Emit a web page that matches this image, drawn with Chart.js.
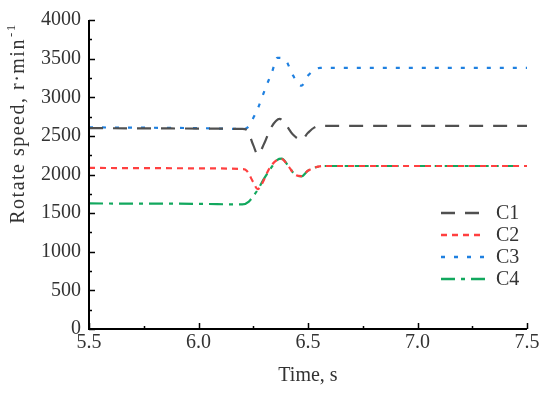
<!DOCTYPE html>
<html>
<head>
<meta charset="utf-8">
<script src="https://cdn.jsdelivr.net/npm/chart.js@4.4.0/dist/chart.umd.min.js"></script>
<style>
  html, body { margin: 0; padding: 0; background: #fff; }
  #wrap { width: 550px; height: 393px; }
</style>
</head>
<body>
<div id="wrap"><canvas id="chart"></canvas></div>
<script>
// series names
var seriesNames = ['C1', 'C2', 'C3', 'C4'];

// time (s) and rotate speed (r/min)
var c1Time  = [5.5, 6.0, 6.2, 6.22, 6.25, 6.27, 6.3, 6.33, 6.37, 6.4, 6.43, 6.47, 6.5, 6.53, 6.56, 6.6, 7.0, 7.5];
var c1Speed = [2600, 2595, 2590, 2580, 2380, 2260, 2400, 2600, 2720, 2640, 2520, 2450, 2540, 2610, 2630, 2630, 2630, 2630];

var c2Time  = [5.5, 6.0, 6.2, 6.22, 6.25, 6.27, 6.29, 6.32, 6.35, 6.38, 6.41, 6.44, 6.47, 6.5, 6.53, 6.57, 7.0, 7.5];
var c2Speed = [2085, 2080, 2070, 2050, 1900, 1810, 1880, 2060, 2170, 2200, 2110, 2000, 1980, 2050, 2090, 2110, 2110, 2110];

var c3Time  = [5.5, 6.0, 6.2, 6.22, 6.24, 6.27, 6.31, 6.335, 6.36, 6.395, 6.43, 6.47, 6.5, 6.555, 6.6, 7.0, 7.5];
var c3Speed = [2610, 2600, 2590, 2600, 2680, 2850, 3150, 3320, 3510, 3490, 3290, 3150, 3280, 3380, 3380, 3380, 3380];

var c4Time  = [5.5, 6.0, 6.2, 6.23, 6.25, 6.27, 6.3, 6.33, 6.36, 6.38, 6.41, 6.44, 6.47, 6.5, 6.53, 6.57, 7.0, 7.5];
var c4Speed = [1625, 1620, 1612, 1650, 1720, 1800, 1950, 2080, 2190, 2205, 2110, 2000, 1975, 2050, 2090, 2110, 2110, 2110];

// tick values
var xTicks = [5.5, 6.0, 6.5, 7.0, 7.5];
var yTicks = [0, 500, 1000, 1500, 2000, 2500, 3000, 3500, 4000];

var colors = ['#505050', '#ff4040', '#1f80e0', '#12a85e'];
var dashes = [[14, 10], [6, 5], [4, 9], [14, 6, 4, 6]];

var FONT = '"Liberation Serif", "DejaVu Serif", serif';

function pts(t, v) {
  return t.map(function (x, i) { return { x: x, y: v[i] }; });
}

var seriesData = [pts(c1Time, c1Speed), pts(c2Time, c2Speed), pts(c3Time, c3Speed), pts(c4Time, c4Speed)];

// axes with inward ticks, custom y title, legend inside plot
var axesPlugin = {
  id: 'axesPlugin',
  afterDatasetsDraw: function (chart) {
    var ctx = chart.ctx;
    var a = chart.chartArea;
    var xs = chart.scales.x, ys = chart.scales.y;
    ctx.save();
    ctx.strokeStyle = '#000';
    ctx.lineWidth = 2;
    ctx.beginPath();
    ctx.moveTo(a.left, a.top);
    ctx.lineTo(a.left, a.bottom);
    ctx.lineTo(a.right, a.bottom);
    ctx.stroke();

    ctx.lineWidth = 1.5;
    ctx.beginPath();
    // x ticks, major and minor
    for (var v = xs.min; v <= xs.max + 1e-6; v += 0.25) {
      var px = Math.round(xs.getPixelForValue(v)) + 0.5;
      var major = Math.abs((v * 2) - Math.round(v * 2)) < 1e-6;
      ctx.moveTo(px, a.bottom);
      ctx.lineTo(px, a.bottom - (major ? 6 : 3));
    }
    for (var w = ys.min; w <= ys.max + 1e-6; w += 250) {
      var py = Math.round(ys.getPixelForValue(w)) + 0.5;
      var majorY = w % 500 === 0;
      ctx.moveTo(a.left, py);
      ctx.lineTo(a.left + (majorY ? 6 : 3), py);
    }
    ctx.stroke();

    // y axis title with superscript
    ctx.fillStyle = '#333';
    ctx.translate(19, 124);
    ctx.rotate(-Math.PI / 2);
    ctx.textBaseline = 'middle';
    ctx.letterSpacing = '1.5px';
    var main = 'Rotate speed, r\u00b7min';
    ctx.font = '20px ' + FONT;
    var mw = ctx.measureText(main).width;
    ctx.font = '13px ' + FONT;
    var sw = ctx.measureText('-1').width;
    var start = -(mw + sw) / 2;
    ctx.textAlign = 'left';
    ctx.font = '20px ' + FONT;
    ctx.fillText(main, start, 0);
    ctx.font = '13px ' + FONT;
    ctx.fillText('-1', start + mw + 1, -7);
    ctx.restore();

    // legend
    ctx.save();
    chart.data.datasets.forEach(function (ds, i) {
      var y = 213 + i * 22;
      ctx.strokeStyle = ds.borderColor;
      ctx.lineWidth = 2.5;
      ctx.setLineDash(ds.borderDash);
      ctx.beginPath();
      ctx.moveTo(441, y);
      ctx.lineTo(485, y);
      ctx.stroke();
      ctx.setLineDash([]);
      ctx.fillStyle = '#333';
      ctx.font = '20px ' + FONT;
      ctx.textAlign = 'left';
      ctx.textBaseline = 'middle';
      ctx.fillText(ds.label, 496, y + 1);
    });
    ctx.restore();
  }
};

new Chart(document.getElementById('chart'), {
  type: 'line',
  data: {
    datasets: seriesNames.map(function (name, i) {
      return {
        label: name,
        data: seriesData[i],
        borderColor: colors[i],
        borderDash: dashes[i],
        borderWidth: 2.2,
        pointRadius: 0,
        cubicInterpolationMode: 'monotone',
        fill: false
      };
    })
  },
  options: {
    responsive: true,
    maintainAspectRatio: false,
    animation: false,
    layout: { padding: { top: 17, right: 23, left: 0, bottom: 0 } },
    plugins: { legend: { display: false }, tooltip: { enabled: false } },
    scales: {
      x: {
        type: 'linear',
        min: 5.5,
        max: 7.5,
        afterBuildTicks: function (s) { s.ticks = xTicks.map(function (v) { return { value: v }; }); },
        afterFit: function (s) { s.height = 64; },
        grid: { display: false, drawTicks: false },
        border: { display: false },
        ticks: {
          padding: 2,
          color: '#333',
          font: { family: FONT, size: 20 },
          maxRotation: 0,
          callback: function (v) { return v.toFixed(1); }
        },
        title: {
          display: true,
          text: 'Time, s',
          color: '#333',
          font: { family: FONT, size: 20 },
          padding: { top: 2, bottom: 5 }
        }
      },
      y: {
        min: 0,
        max: 4000,
        afterBuildTicks: function (s) { s.ticks = yTicks.map(function (v) { return { value: v }; }); },
        afterFit: function (s) { s.width = 89; },
        grid: { display: false, drawTicks: false },
        border: { display: false },
        ticks: {
          padding: 8,
          color: '#333',
          font: { family: FONT, size: 20 },
          callback: function (v) { return String(v); }
        }
      }
    }
  },
  plugins: [axesPlugin]
});
</script>
</body>
</html>
